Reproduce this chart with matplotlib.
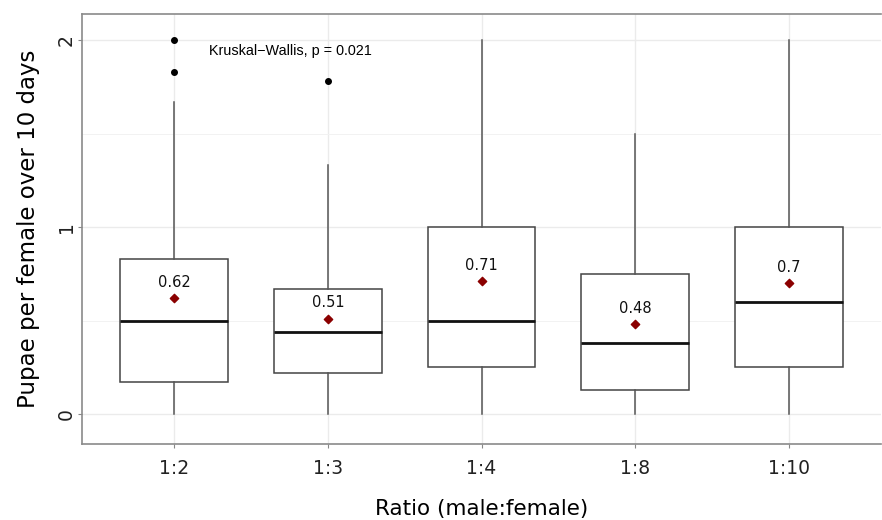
import matplotlib
matplotlib.use('Agg')
import matplotlib.pyplot as plt

# box statistics
ratios = ['1:2', '1:3', '1:4', '1:8', '1:10']
q1 = [0.17, 0.22, 0.25, 0.13, 0.25]
medians = [0.50, 0.44, 0.50, 0.38, 0.60]
q3 = [0.83, 0.67, 1.00, 0.75, 1.00]
whisk_lo = [0, 0, 0, 0, 0]
whisk_hi = [1.67, 1.33, 2.0, 1.5, 2.0]
means = [0.62, 0.51, 0.71, 0.48, 0.70]
mean_labels = ['0.62', '0.51', '0.71', '0.48', '0.7']
outliers = [[2.0, 1.83], [1.78], [], [], []]

stats = []
for i in range(len(ratios)):
    stats.append({'med': medians[i], 'q1': q1[i], 'q3': q3[i],
                  'whislo': whisk_lo[i], 'whishi': whisk_hi[i],
                  'fliers': outliers[i], 'label': ratios[i]})

pos = list(range(1, len(ratios) + 1))

fig = plt.figure(figsize=(8.82, 5.2), dpi=100)
ax = fig.add_axes([0.093, 0.146, 0.906, 0.827])

ax.bxp(stats, positions=pos, widths=0.7, showcaps=False, patch_artist=True,
       boxprops=dict(facecolor='white', edgecolor='#444444', linewidth=1.1),
       whiskerprops=dict(color='#555555', linewidth=1.1),
       medianprops=dict(color='#111111', linewidth=2.0),
       flierprops=dict(marker='o', markerfacecolor='black', markeredgecolor='black',
                       markersize=4))

ax.scatter(pos, means, marker='D', color='#8B0000', s=18, zorder=4)
for x, m, lab in zip(pos, means, mean_labels):
    ax.text(x, m + 0.085, lab, ha='center', va='center', fontsize=10.5,
            family='DejaVu Sans', color='#111111')

ax.text(1.225, 1.94, 'Kruskal\u2212Wallis, p = 0.021', ha='left', va='center',
        fontsize=10.4, family='Liberation Sans')

ax.set_xlim(0.4, 5.6)
ax.set_ylim(-0.16, 2.14)
ax.set_xticks(pos)
ax.set_xticklabels(ratios)
ax.set_yticks([0, 1, 2])
ax.set_yticks([0.5, 1.5], minor=True)
ax.grid(which='major', color='#ebebeb', linewidth=1.0)
ax.grid(which='minor', axis='y', color='#f2f2f2', linewidth=0.7)
ax.set_axisbelow(True)

ax.tick_params(axis='both', which='major', labelsize=13.5, length=3, color='#888888',
               labelcolor='#222222')
ax.tick_params(axis='x', pad=8)
ax.tick_params(axis='y', labelrotation=90, pad=1.5)
ax.tick_params(axis='y', which='minor', length=0)
for lab in ax.get_yticklabels():
    lab.set_va('center')

for s in ['left', 'top', 'bottom']:
    ax.spines[s].set_color('#8a8a8a')
    ax.spines[s].set_linewidth(1.2)
ax.spines['right'].set_visible(False)

ax.set_xlabel('Ratio (male:female)', fontsize=15.5, labelpad=15)
ax.set_ylabel('Pupae per female over 10 days', fontsize=16.5, labelpad=12)

fig.savefig('out.png', dpi=100)
